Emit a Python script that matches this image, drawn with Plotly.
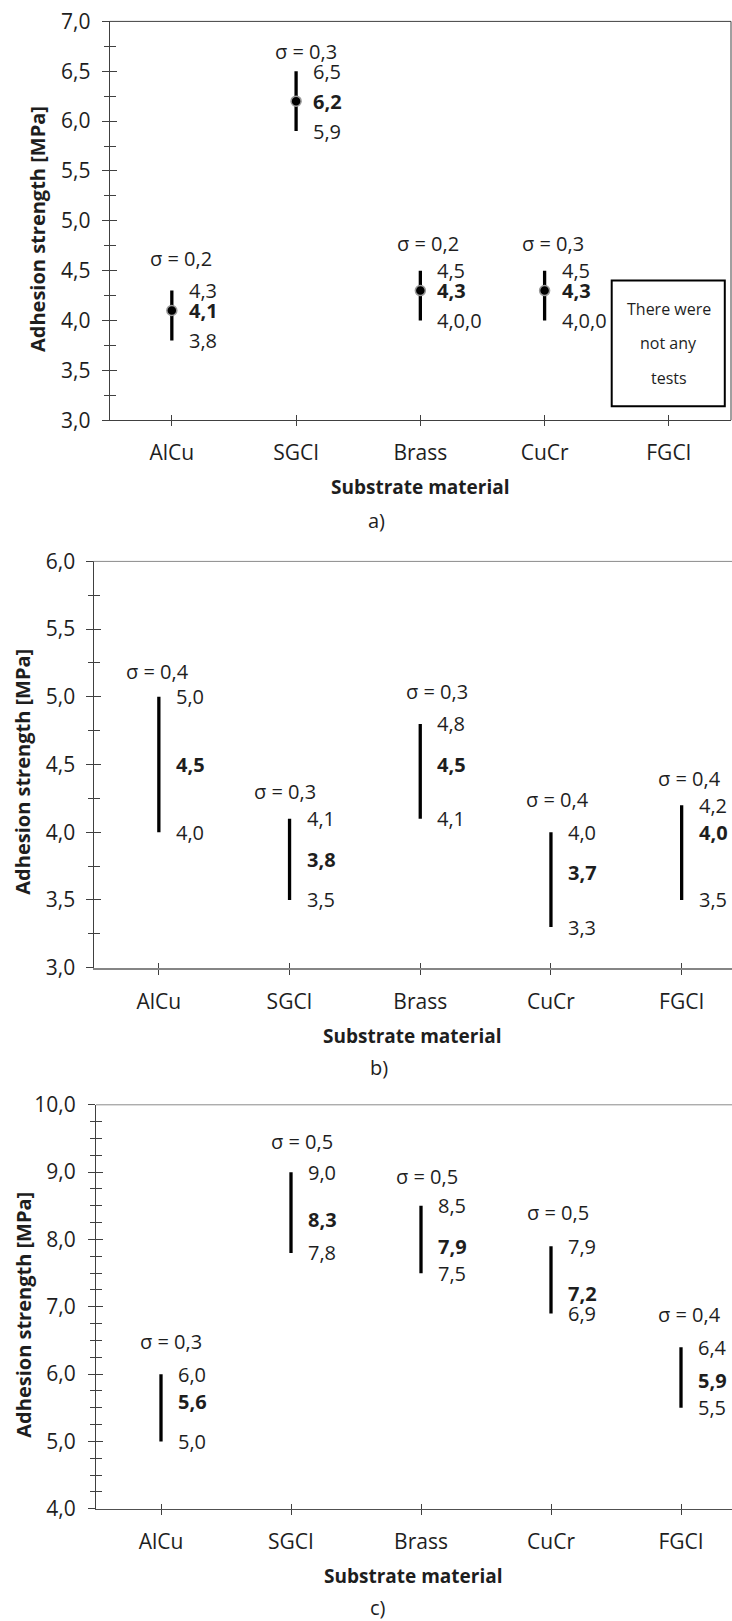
import plotly.graph_objects as go

# ---------------- data ----------------
categories = ["AlCu", "SGCI", "Brass", "CuCr", "FGCI"]

# panel a)
a_min = [3.8, 5.9, 4.0, 4.0, None]
a_mean = [4.1, 6.2, 4.3, 4.3, None]
a_max = [4.3, 6.5, 4.5, 4.5, None]
a_sigma = [0.2, 0.3, 0.2, 0.3, None]
a_min_text = ["3,8", "5,9", "4,0,0", "4,0,0", None]
a_note = ["There were", "not any", "tests"]

# panel b)
b_min = [4.0, 3.5, 4.1, 3.3, 3.5]
b_mean = [4.5, 3.8, 4.5, 3.7, 4.0]
b_max = [5.0, 4.1, 4.8, 4.0, 4.2]
b_sigma = [0.4, 0.3, 0.3, 0.4, 0.4]

# panel c)
c_min = [5.0, 7.8, 7.5, 6.9, 5.5]
c_mean = [5.6, 8.3, 7.9, 7.2, 5.9]
c_max = [6.0, 9.0, 8.5, 7.9, 6.4]
c_sigma = [0.3, 0.5, 0.5, 0.5, 0.4]

panel_letters = ["a)", "b)", "c)"]
x_title = "Substrate material"
y_title = "Adhesion strength [MPa]"

# ---------------- layout settings (positions / styles) ----------------
W, H = 732, 1621
FONT = "Open Sans"
TXT = "#1e1e1e"
AX = "#404040"
FS = 20      # value / sigma labels
FTK = 21     # tick labels
FT = 19      # x title
FYT = 20     # y title


def py(px):  # pixel from top -> paper fraction
    return 1 - px / H


def fmt(v):
    return f"{v:.1f}".replace(".", ",")


panels = [
    dict(mn=a_min, me=a_mean, mx=a_max, sg=a_sigma, mn_text=a_min_text,
         xdom=[109.7 / W, 731 / W], ydom=[py(420.2), py(21.4)],
         xr=[-0.5, 4.5], yr=[3.0, 7.0], dtick=0.5, minor=0.25,
         sig_y=[4.62, 6.70, 4.77, 4.77, None], sig_dx=[9.5, 10, 7.3, 8.3, 0],
         markers=True, box=True, ystand=7, topcol=AX, botcol=AX, botw=1,
         xt_y=487, let_y=520, let_x=376, yt_x=38, yt_y=229),
    dict(mn=b_min, me=b_mean, mx=b_max, sg=b_sigma, mn_text=None,
         xdom=[93.5 / W, 1.0], ydom=[py(967.7), py(561.4)],
         xr=[-0.5, (W - 93.5) / 130.7 - 0.5], yr=[3.0, 6.0], dtick=0.5, minor=0.25,
         sig_y=[5.19, 4.30, 5.04, 4.24, 4.40], sig_dx=[-1, -5, 16.5, 6.7, 8],
         markers=False, box=False, ystand=6, topcol="#8a8a8a", botcol="#858585", botw=1.7,
         xt_y=1036, let_y=1067, let_x=378.5, yt_x=21.7, yt_y=772),
    dict(mn=c_min, me=c_mean, mx=c_max, sg=c_sigma, mn_text=None,
         xdom=[96 / W, 1.0], ydom=[py(1508.8), py(1104.8)],
         xr=[-0.5, (W - 96) / 130.0 - 0.5], yr=[4.0, 10.0], dtick=1.0, minor=0.25,
         sig_y=[6.48, 9.46, 8.94, 8.40, 6.89], sig_dx=[9.5, 11, 6, 6.7, 8],
         markers=False, box=False, ystand=8, topcol="#8a8a8a", botcol="#505050", botw=1.2,
         xt_y=1576, let_y=1607, let_x=377.7, yt_x=22.7, yt_y=1315),
]

fig = go.Figure()
annotations = []
shapes = []
layout = {}
xs = list(range(len(categories)))

for k, p in enumerate(panels, start=1):
    xa = "x" if k == 1 else f"x{k}"
    ya = "y" if k == 1 else f"y{k}"
    ox, oy = f"x{k + 3}", f"y{k + 3}"
    xkey = "xaxis" if k == 1 else f"xaxis{k}"
    ykey = "yaxis" if k == 1 else f"yaxis{k}"

    mean = p["me"]
    plus = [None if m is None else round(h - m, 3) for m, h in zip(mean, p["mx"])]
    minus = [None if m is None else round(m - l, 3) for m, l in zip(mean, p["mn"])]

    fig.add_trace(go.Scatter(
        x=xs, y=mean, xaxis=xa, yaxis=ya, mode="markers", showlegend=False,
        hoverinfo="skip",
        marker=dict(size=10 if p["markers"] else 1, color="black",
                    opacity=1 if p["markers"] else 0,
                    line=dict(color="#9a9a9a", width=1.5)),
        error_y=dict(type="data", symmetric=False, array=plus, arrayminus=minus,
                     width=0, thickness=3.3, color="black"),
    ))
    # dummy trace for overlay axes (inner half of crossing ticks)
    fig.add_trace(go.Scatter(x=[None], y=[None], xaxis=ox, yaxis=oy,
                             showlegend=False, hoverinfo="skip"))

    common_tick = dict(tickcolor=AX, tickwidth=1)
    layout[xkey] = dict(
        domain=p["xdom"], range=p["xr"], anchor=ya, tickmode="array",
        tickvals=xs, ticktext=categories, ticks="outside", ticklen=5,
        showline=True, linecolor=p["botcol"], linewidth=p["botw"], mirror=False,
        showgrid=False, zeroline=False, automargin=False,
        ticklabelstandoff=9,
        tickfont=dict(family=FONT, size=FTK, color=TXT), **common_tick)
    layout[ykey] = dict(
        domain=p["ydom"], range=p["yr"], anchor=xa, dtick=p["dtick"],
        tick0=p["yr"][0], tickformat=".1f", ticks="outside", ticklen=7,
        minor=dict(dtick=p["minor"], tick0=p["yr"][0], ticks="outside",
                   ticklen=5, tickcolor=AX, tickwidth=1, showgrid=False),
        showline=True, linecolor=AX, linewidth=1, mirror=False,
        showgrid=False, zeroline=False, automargin=False,
        ticklabelstandoff=p["ystand"],
        tickfont=dict(family=FONT, size=FTK, color=TXT), **common_tick)
    layout[f"xaxis{k + 3}"] = dict(
        domain=p["xdom"], range=p["xr"], overlaying=xa, anchor=oy, side="bottom",
        tickmode="array", tickvals=xs, ticks="inside", ticklen=5,
        showticklabels=False, showline=False, showgrid=False, zeroline=False,
        automargin=False, **common_tick)
    layout[f"yaxis{k + 3}"] = dict(
        domain=p["ydom"], range=p["yr"], overlaying=ya, anchor=ox, side="left",
        dtick=p["dtick"], tick0=p["yr"][0], ticks="inside", ticklen=7,
        minor=dict(dtick=p["minor"], tick0=p["yr"][0], ticks="inside",
                   ticklen=6, tickcolor=AX, tickwidth=1, showgrid=False),
        showticklabels=False, showline=False, showgrid=False, zeroline=False,
        automargin=False, **common_tick)

    # frame lines: top line (all panels), right line (panel a)
    shapes.append(dict(type="line", xref=f"{xa} domain", yref=f"{ya} domain",
                       x0=0, x1=1, y0=1, y1=1,
                       line=dict(color=p["topcol"], width=1)))
    if p["box"]:
        shapes.append(dict(type="line", xref=f"{xa} domain", yref=f"{ya} domain",
                           x0=1, x1=1, y0=0, y1=1,
                           line=dict(color=AX, width=1)))

    # value labels
    for i in xs:
        if mean[i] is None:
            continue
        lo_txt = p["mn_text"][i] if p["mn_text"] else fmt(p["mn"][i])
        for val, txt, bold in ((p["mx"][i], fmt(p["mx"][i]), False),
                               (mean[i], fmt(mean[i]), True),
                               (p["mn"][i], lo_txt, False)):
            annotations.append(dict(
                x=i, y=val, xref=xa, yref=ya, text=f"<b>{txt}</b>" if bold else txt,
                xanchor="left", yanchor="middle", xshift=15, showarrow=False,
                font=dict(family=FONT, size=FS, color=TXT)))
        annotations.append(dict(
            x=i, y=p["sig_y"][i], xref=xa, yref=ya, text=f"σ = {fmt(p['sg'][i])}",
            xanchor="center", yanchor="middle", xshift=p["sig_dx"][i], showarrow=False,
            font=dict(family=FONT, size=FS, color=TXT)))

    # axis titles and panel letter
    annotations.append(dict(x=(p["xdom"][0] + min(p["xdom"][1], 731 / W)) / 2,
                            y=py(p["xt_y"]), xref="paper", yref="paper",
                            text=f"<b>{x_title}</b>", showarrow=False,
                            xanchor="center", yanchor="middle",
                            font=dict(family=FONT, size=FT, color=TXT)))
    annotations.append(dict(x=p["let_x"] / W, y=py(p["let_y"]), xref="paper", yref="paper",
                            text=panel_letters[k - 1], showarrow=False,
                            xanchor="center", yanchor="middle",
                            font=dict(family=FONT, size=FS, color=TXT)))
    annotations.append(dict(x=p["yt_x"] / W, y=py(p["yt_y"]), xref="paper", yref="paper",
                            text=f"<b>{y_title}</b>", showarrow=False, textangle=-90,
                            xanchor="center", yanchor="middle",
                            font=dict(family=FONT, size=FYT, color=TXT)))

# "no tests" box in panel a (FGCI)
fg = categories.index("FGCI")
shapes.append(dict(type="rect", xref="x", yref="y", x0=fg - 0.46, x1=fg + 0.45,
                   y0=3.14, y1=4.40, line=dict(color="black", width=2)))
for j, line in enumerate(a_note):
    annotations.append(dict(x=fg, y=3.77, xref="x", yref="y", text=line,
                            showarrow=False, xanchor="center", yanchor="middle",
                            yshift=(1 - j) * 34.5,
                            font=dict(family=FONT, size=16, color=TXT)))

fig.update_layout(
    width=W, height=H, autosize=False,
    margin=dict(l=0, r=0, t=0, b=0),
    paper_bgcolor="white", plot_bgcolor="white",
    separators=",.",
    font=dict(family=FONT, size=FS, color=TXT),
    showlegend=False,
    annotations=annotations, shapes=shapes,
    **layout,
)

fig.write_html(
    "out.html",
    config={"displayModeBar": False},
    post_script="document.body.style.margin='0';document.body.style.overflow='hidden';"
                "document.documentElement.style.overflow='hidden';",
)
